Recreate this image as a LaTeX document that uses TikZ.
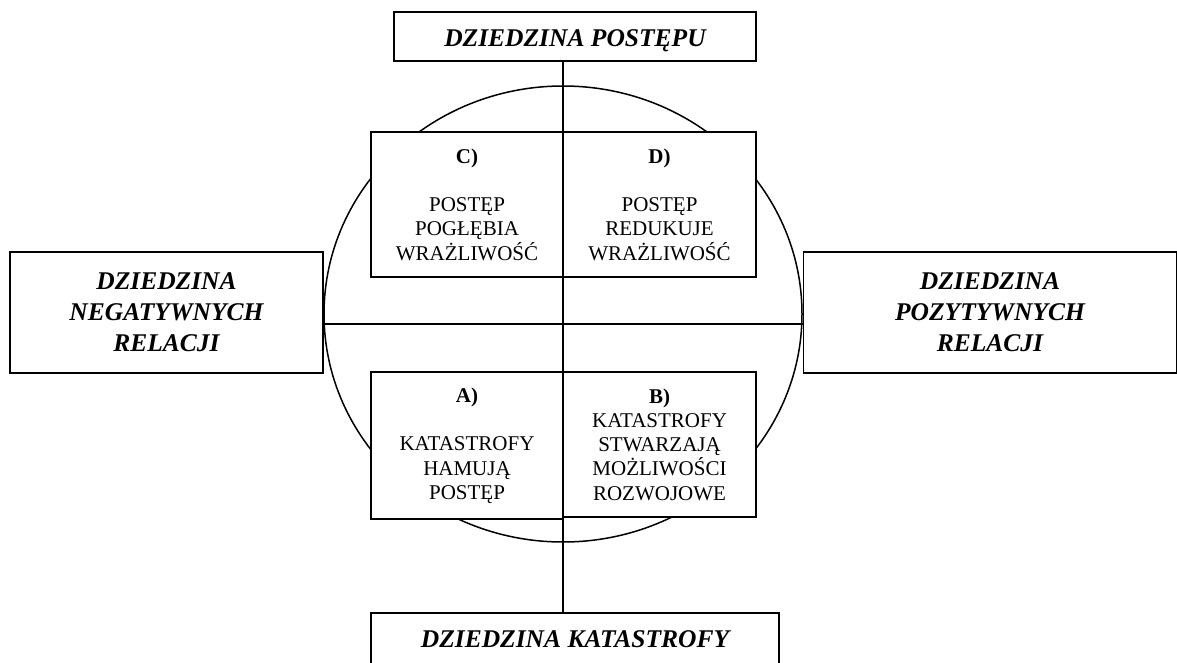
\documentclass[tikz,border=0pt]{standalone}
\usepackage{fontspec}
\setmainfont{Liberation Serif}
\begin{document}
\begin{tikzpicture}[x=1pt,y=-1pt, line width=1.5pt,
  dom/.style={draw, fill=white, rectangle, inner sep=0pt, align=center,
    font=\fontsize{25.5}{31}\selectfont\bfseries\itshape},
  quad/.style={draw, fill=white, rectangle, inner sep=0pt, align=center,
    font=\fontsize{21}{24.3}\selectfont}]
\clip (0,0) rectangle (1177,663);
\fill[white] (0,0) rectangle (1177,663);
% circle
\draw (563,314) ellipse [x radius=239, y radius=228];
% domain boxes
\node[dom, minimum width=362pt, minimum height=49pt, text height=21pt, text depth=0pt] (top) at (575,36.5) {DZIEDZINA POSTĘPU};
\node[dom, minimum width=313pt, minimum height=121pt] (left) at (166.5,312.5) {DZIEDZINA\\NEGATYWNYCH\\RELACJI};
\node[dom, minimum width=373pt, minimum height=121pt] (right) at (990,312.5) {DZIEDZINA\\POZYTYWNYCH\\RELACJI};
\node[dom, minimum width=408pt, minimum height=52pt, text height=17pt, text depth=0pt] (bot) at (575,639) {DZIEDZINA KATASTROFY};
% quadrant boxes
\node[quad, minimum width=192pt, minimum height=145pt] (C) at (467,204.5) {\textbf{C)}\\[24.3pt]POSTĘP\\POGŁĘBIA\\WRAŻLIWOŚĆ};
\node[quad, minimum width=193pt, minimum height=145pt] (D) at (659.5,204.5) {\textbf{D)}\\[24.3pt]POSTĘP\\REDUKUJE\\WRAŻLIWOŚĆ};
\node[quad, minimum width=192pt, minimum height=147pt] (A) at (467,445.5) {\textbf{A)}\\[24.3pt]KATASTROFY\\HAMUJĄ\\POSTĘP};
\node[quad, minimum width=193pt, minimum height=145pt] (B) at (659.5,444.5) {\textbf{B)}\\KATASTROFY\\STWARZAJĄ\\MOŻLIWOŚCI\\ROZWOJOWE};
% axes
\coordinate (ax) at (563,324);
\draw (top.south -| ax) -- (bot.north -| ax);
\draw (left.east |- ax) -- (right.west |- ax);
\end{tikzpicture}
\end{document}
